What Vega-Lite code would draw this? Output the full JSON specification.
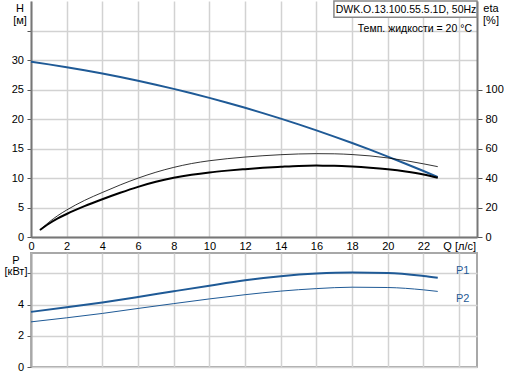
{
  "$schema": "https://vega.github.io/schema/vega-lite/v6.json",
  "padding": {"left": 3, "top": 0, "right": 0, "bottom": 0},
  "spacing": 1,
  "config": {
    "font": "Liberation Sans",
    "view": {"stroke": null},
    "axis": {
      "labelFont": "Liberation Sans",
      "labelFontSize": 11,
      "labelColor": "#000000",
      "labelOverlap": false,
      "titleFont": "Liberation Sans",
      "titleFontWeight": "normal",
      "titleFontSize": 11,
      "titleColor": "#000000",
      "gridColor": "#d2d2d2",
      "gridWidth": 1.5,
      "domainColor": "#777777",
      "domainWidth": 2,
      "tickColor": "#555555",
      "tickSize": 4,
      "labelPadding": 3.5
    }
  },
  "datasets": {
    "H": [
      {"Q": 0, "H": 29.70}, {"Q": 1, "H": 29.26}, {"Q": 2, "H": 28.78}, {"Q": 3, "H": 28.27},
      {"Q": 4, "H": 27.71}, {"Q": 5, "H": 27.12}, {"Q": 6, "H": 26.49}, {"Q": 7, "H": 25.82},
      {"Q": 8, "H": 25.11}, {"Q": 9, "H": 24.37}, {"Q": 10, "H": 23.58}, {"Q": 11, "H": 22.76},
      {"Q": 12, "H": 21.90}, {"Q": 13, "H": 21.00}, {"Q": 14, "H": 20.06}, {"Q": 15, "H": 19.09},
      {"Q": 16, "H": 18.07}, {"Q": 17, "H": 17.02}, {"Q": 18, "H": 15.93}, {"Q": 19, "H": 14.80},
      {"Q": 20, "H": 13.63}, {"Q": 21, "H": 12.42}, {"Q": 22, "H": 11.18}, {"Q": 22.8, "H": 10.15}
    ],
    "eta": [
      {"curve": "a", "Q": 0.5, "eta": 4.7}, {"curve": "a", "Q": 1, "eta": 9.0}, {"curve": "a", "Q": 1.5, "eta": 12.6},
      {"curve": "a", "Q": 2, "eta": 15.6},
      {"curve": "a", "Q": 3, "eta": 20.9}, {"curve": "a", "Q": 4, "eta": 25.6}, {"curve": "a", "Q": 5, "eta": 30.0},
      {"curve": "a", "Q": 6, "eta": 34.0}, {"curve": "a", "Q": 7, "eta": 37.4}, {"curve": "a", "Q": 8, "eta": 40.1},
      {"curve": "a", "Q": 9, "eta": 42.2}, {"curve": "a", "Q": 10, "eta": 43.8}, {"curve": "a", "Q": 11, "eta": 45.0},
      {"curve": "a", "Q": 12, "eta": 46.0}, {"curve": "a", "Q": 13, "eta": 46.9}, {"curve": "a", "Q": 14, "eta": 47.6},
      {"curve": "a", "Q": 15, "eta": 48.2}, {"curve": "a", "Q": 16, "eta": 48.4}, {"curve": "a", "Q": 17, "eta": 48.3},
      {"curve": "a", "Q": 18, "eta": 47.8}, {"curve": "a", "Q": 19, "eta": 47.0}, {"curve": "a", "Q": 20, "eta": 45.9},
      {"curve": "a", "Q": 21, "eta": 44.4}, {"curve": "a", "Q": 22, "eta": 42.4}, {"curve": "a", "Q": 22.8, "eta": 40.2},
      {"curve": "b", "Q": 0.5, "eta": 4.7}, {"curve": "b", "Q": 1, "eta": 10.0}, {"curve": "b", "Q": 1.5, "eta": 14.5},
      {"curve": "b", "Q": 2, "eta": 18.3},
      {"curve": "b", "Q": 3, "eta": 24.8}, {"curve": "b", "Q": 4, "eta": 30.2}, {"curve": "b", "Q": 5, "eta": 35.3},
      {"curve": "b", "Q": 6, "eta": 39.9}, {"curve": "b", "Q": 7, "eta": 43.9}, {"curve": "b", "Q": 8, "eta": 47.2},
      {"curve": "b", "Q": 9, "eta": 49.8}, {"curve": "b", "Q": 10, "eta": 51.7}, {"curve": "b", "Q": 11, "eta": 53.1},
      {"curve": "b", "Q": 12, "eta": 54.2}, {"curve": "b", "Q": 13, "eta": 55.1}, {"curve": "b", "Q": 14, "eta": 55.8},
      {"curve": "b", "Q": 15, "eta": 56.3}, {"curve": "b", "Q": 16, "eta": 56.5}, {"curve": "b", "Q": 17, "eta": 56.4},
      {"curve": "b", "Q": 18, "eta": 55.9}, {"curve": "b", "Q": 19, "eta": 55.0}, {"curve": "b", "Q": 20, "eta": 53.6},
      {"curve": "b", "Q": 21, "eta": 51.8}, {"curve": "b", "Q": 22, "eta": 49.6}, {"curve": "b", "Q": 22.8, "eta": 47.7}
    ],
    "P": [
      {"curve": "P1", "Q": 0, "P": 3.53}, {"curve": "P1", "Q": 2, "P": 3.82}, {"curve": "P1", "Q": 4, "P": 4.13},
      {"curve": "P1", "Q": 6, "P": 4.48}, {"curve": "P1", "Q": 8, "P": 4.85}, {"curve": "P1", "Q": 10, "P": 5.21},
      {"curve": "P1", "Q": 12, "P": 5.55}, {"curve": "P1", "Q": 14, "P": 5.81}, {"curve": "P1", "Q": 16, "P": 5.98},
      {"curve": "P1", "Q": 18, "P": 6.05}, {"curve": "P1", "Q": 20, "P": 6.02}, {"curve": "P1", "Q": 22, "P": 5.83},
      {"curve": "P1", "Q": 22.8, "P": 5.72},
      {"curve": "P2", "Q": 0, "P": 2.89}, {"curve": "P2", "Q": 2, "P": 3.15}, {"curve": "P2", "Q": 4, "P": 3.43},
      {"curve": "P2", "Q": 6, "P": 3.75}, {"curve": "P2", "Q": 8, "P": 4.06}, {"curve": "P2", "Q": 10, "P": 4.36},
      {"curve": "P2", "Q": 12, "P": 4.63}, {"curve": "P2", "Q": 14, "P": 4.86}, {"curve": "P2", "Q": 16, "P": 5.02},
      {"curve": "P2", "Q": 18, "P": 5.11}, {"curve": "P2", "Q": 20, "P": 5.09}, {"curve": "P2", "Q": 22, "P": 4.94},
      {"curve": "P2", "Q": 22.8, "P": 4.84}
    ],
    "Plab": [
      {"label": "P1", "Q": 23.82, "P": 6.15},
      {"label": "P2", "Q": 23.82, "P": 4.35}
    ],
    "box": [
      {"Q1": 16.98, "Q2": 25.0, "H1": 37.25, "H2": 40.0}
    ],
    "note1": [
      {"label": "DWK.O.13.100.55.5.1D, 50Hz", "Q": 21.02, "H": 38.55}
    ],
    "note2": [
      {"label": "Темп. жидкости = 20 °C", "Q": 24.72, "H": 35.3}
    ]
  },
  "vconcat": [
    {
      "width": 446,
      "height": 236,
      "layer": [
        {
          "data": {"name": "H"},
          "mark": {"type": "line", "color": "#1f5a96", "strokeWidth": 2, "interpolate": "monotone"},
          "encoding": {
            "x": {"field": "Q", "type": "quantitative", "scale": {"domain": [0, 25], "nice": false},
              "axis": {"values": [0, 2, 4, 6, 8, 10, 12, 14, 16, 18, 20, 22, 24], "labelExpr": "datum.value == 24 ? 'Q [л/с]' : datum.label", "labelOverlap": false, "ticks": false, "labelPadding": 3, "title": null, "labelFlush": false}},
            "y": {
              "field": "H", "type": "quantitative",
              "scale": {"domain": [0, 40], "nice": false},
              "axis": {
                "values": [0, 5, 10, 15, 20, 25, 30, 35],
                "labelExpr": "datum.value <= 30 ? datum.label : ''",
                "labelOverlap": false,
                "title": ["H", "[м]"], "titleAngle": 0, "titleAlign": "center", "titleBaseline": "top",
                "titleX": -11.5, "titleY": 1, "titleLineHeight": 12.5
              }
            }
          }
        },
        {
          "data": {"name": "eta"},
          "transform": [{"filter": "datum.curve == 'b'"}],
          "mark": {"type": "line", "color": "#000000", "strokeWidth": 0.8, "interpolate": "monotone"},
          "encoding": {
            "x": {"field": "Q", "type": "quantitative", "scale": {"domain": [0, 25], "nice": false},
              "axis": {"values": [0, 2, 4, 6, 8, 10, 12, 14, 16, 18, 20, 22, 24], "labelExpr": "datum.value == 24 ? 'Q [л/с]' : datum.label", "labelOverlap": false, "ticks": false, "labelPadding": 3, "title": null, "labelFlush": false}},
            "y": {
              "field": "eta", "type": "quantitative",
              "scale": {"domain": [0, 160], "nice": false},
              "axis": {
                "orient": "right", "values": [0, 20, 40, 60, 80, 100], "grid": false,
                "labelOverlap": false,
                "tickSize": 5, "labelPadding": 3,
                "title": ["eta", "[%]"], "titleAngle": 0, "titleAlign": "center", "titleBaseline": "top",
                "titleX": 13.5, "titleY": 1, "titleLineHeight": 12
              }
            }
          }
        },
        {
          "data": {"name": "eta"},
          "transform": [{"filter": "datum.curve == 'a'"}],
          "mark": {"type": "line", "color": "#000000", "strokeWidth": 2, "interpolate": "monotone"},
          "encoding": {
            "x": {"field": "Q", "type": "quantitative", "scale": {"domain": [0, 25], "nice": false},
              "axis": {"values": [0, 2, 4, 6, 8, 10, 12, 14, 16, 18, 20, 22, 24], "labelExpr": "datum.value == 24 ? 'Q [л/с]' : datum.label", "labelOverlap": false, "ticks": false, "labelPadding": 3, "title": null, "labelFlush": false}},
            "y": {"field": "eta", "type": "quantitative", "scale": {"domain": [0, 160], "nice": false}, "axis": null}
          }
        },
        {
          "data": {"name": "box"},
          "mark": {"type": "rect", "fill": "#ffffff", "stroke": "#888888", "strokeWidth": 1.5},
          "encoding": {
            "x": {"field": "Q1", "type": "quantitative", "scale": {"domain": [0, 25], "nice": false},
              "axis": {"values": [0, 2, 4, 6, 8, 10, 12, 14, 16, 18, 20, 22, 24], "labelExpr": "datum.value == 24 ? 'Q [л/с]' : datum.label", "labelOverlap": false, "ticks": false, "labelPadding": 3, "title": null, "labelFlush": false}},
            "x2": {"field": "Q2"},
            "y": {"field": "H1", "type": "quantitative", "scale": {"domain": [0, 40], "nice": false}, "axis": null},
            "y2": {"field": "H2"}
          }
        },
        {
          "data": {"name": "note1"},
          "mark": {"type": "text", "fontSize": 10.5, "color": "#000000", "baseline": "middle", "align": "center"},
          "encoding": {
            "x": {"field": "Q", "type": "quantitative", "scale": {"domain": [0, 25], "nice": false},
              "axis": {"values": [0, 2, 4, 6, 8, 10, 12, 14, 16, 18, 20, 22, 24], "labelExpr": "datum.value == 24 ? 'Q [л/с]' : datum.label", "labelOverlap": false, "ticks": false, "labelPadding": 3, "title": null, "labelFlush": false}},
            "y": {"field": "H", "type": "quantitative", "scale": {"domain": [0, 40], "nice": false}, "axis": null},
            "text": {"field": "label"}
          }
        },
        {
          "data": {"name": "note2"},
          "mark": {"type": "text", "fontSize": 10.5, "color": "#000000", "baseline": "middle", "align": "right"},
          "encoding": {
            "x": {"field": "Q", "type": "quantitative", "scale": {"domain": [0, 25], "nice": false},
              "axis": {"values": [0, 2, 4, 6, 8, 10, 12, 14, 16, 18, 20, 22, 24], "labelExpr": "datum.value == 24 ? 'Q [л/с]' : datum.label", "labelOverlap": false, "ticks": false, "labelPadding": 3, "title": null, "labelFlush": false}},
            "y": {"field": "H", "type": "quantitative", "scale": {"domain": [0, 40], "nice": false}, "axis": null},
            "text": {"field": "label"}
          }
        }
      ],
      "resolve": {"scale": {"y": "independent"}}
    },
    {
      "width": 446,
      "height": 114,
      "view": {"stroke": "#a8a8a8", "strokeWidth": 2},
      "layer": [
        {
          "data": {"name": "P"},
          "transform": [{"filter": "datum.curve == 'P2'"}],
          "mark": {"type": "line", "color": "#1f5a96", "strokeWidth": 1, "interpolate": "monotone"},
          "encoding": {
            "x": {"field": "Q", "type": "quantitative", "scale": {"domain": [0, 25], "nice": false},
              "axis": {"values": [0, 2, 4, 6, 8, 10, 12, 14, 16, 18, 20, 22, 24], "labels": false, "ticks": false, "domain": false, "title": null}},
            "y": {"field": "P", "type": "quantitative", "scale": {"domain": [0, 7.3], "nice": false},
              "axis": {"values": [0, 2, 4, 6], "labelExpr": "datum.value < 6 ? datum.label : ''", "labelOverlap": false, "domainColor": "#a8a8a8", "title": ["P", "[кВт]"], "titleAngle": 0, "titleAlign": "center", "titleBaseline": "top", "titleX": -15.5, "titleY": 1, "titleLineHeight": 11.5}}
          }
        },
        {
          "data": {"name": "P"},
          "transform": [{"filter": "datum.curve == 'P1'"}],
          "mark": {"type": "line", "color": "#1f5a96", "strokeWidth": 2, "interpolate": "monotone"},
          "encoding": {
            "x": {"field": "Q", "type": "quantitative", "scale": {"domain": [0, 25], "nice": false},
              "axis": {"values": [0, 2, 4, 6, 8, 10, 12, 14, 16, 18, 20, 22, 24], "labels": false, "ticks": false, "domain": false, "title": null}},
            "y": {"field": "P", "type": "quantitative", "scale": {"domain": [0, 7.3], "nice": false},
              "axis": {"values": [0, 2, 4, 6], "labelExpr": "datum.value < 6 ? datum.label : ''", "labelOverlap": false, "domainColor": "#a8a8a8", "title": ["P", "[кВт]"], "titleAngle": 0, "titleAlign": "center", "titleBaseline": "top", "titleX": -15.5, "titleY": 1, "titleLineHeight": 11.5}}
          }
        },
        {
          "data": {"name": "Plab"},
          "mark": {"type": "text", "align": "left", "baseline": "middle", "color": "#1f5a96", "fontSize": 11},
          "encoding": {
            "x": {"field": "Q", "type": "quantitative", "scale": {"domain": [0, 25], "nice": false},
              "axis": {"values": [0, 2, 4, 6, 8, 10, 12, 14, 16, 18, 20, 22, 24], "labels": false, "ticks": false, "domain": false, "title": null}},
            "y": {"field": "P", "type": "quantitative", "scale": {"domain": [0, 7.3], "nice": false},
              "axis": {"values": [0, 2, 4, 6], "labelExpr": "datum.value < 6 ? datum.label : ''", "labelOverlap": false, "domainColor": "#a8a8a8", "title": ["P", "[кВт]"], "titleAngle": 0, "titleAlign": "center", "titleBaseline": "top", "titleX": -15.5, "titleY": 1, "titleLineHeight": 11.5}},
            "text": {"field": "label"}
          }
        }
      ]
    }
  ]
}
